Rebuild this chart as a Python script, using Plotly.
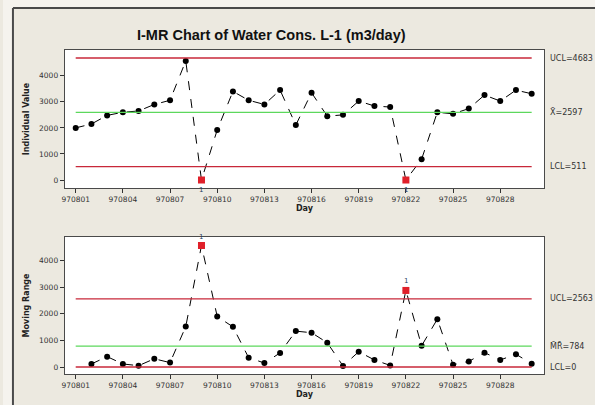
"""I-MR control chart of daily water consumption (L-1)."""

import plotly.graph_objects as go

W, H = 595, 405

days = [f"9708{d:02d}" for d in range(1, 31)]

individual = [2000, 2150, 2480, 2600, 2650, 2900, 3060, 4570, 0, 1920,
              3400, 3060, 2900, 3450, 2110, 3350, 2450, 2500, 3030, 2840,
              2800, 0, 800, 2600, 2540, 2740, 3260, 3030, 3450, 3310]

# first day has no moving range
moving_range = [None, 115, 390, 115, 50, 310, 165, 1520, 4570, 1900,
                1510, 350, 150, 530, 1350, 1290, 915, 40, 575, 265,
                60, 2880, 800, 1800, 85, 210, 540, 265, 480, 125]

i_limits = {"UCL": 4683, "CL": 2597, "LCL": 511}
mr_limits = {"UCL": 2563, "CL": 784, "LCL": 0}

i_flagged = [8, 21]
mr_flagged = [8, 21]

tick_idx = list(range(0, 30, 3))
tick_text = [days[i] for i in tick_idx]

FONT = "DejaVu Sans"
RED = "#C8283A"
GREEN = "#5CD85C"
FRAME = "#4A4A4A"


def px_x(v):
    return v / W


def px_y(v):
    return 1 - v / H


x_idx = list(range(len(days)))

fig = go.Figure()

for xa, ya, vals, flagged in (("x", "y", individual, i_flagged),
                              ("x2", "y2", moving_range, mr_flagged)):
    fig.add_trace(go.Scatter(
        x=x_idx, y=vals, xaxis=xa, yaxis=ya, mode="lines+markers",
        line=dict(color="black", width=1, dash="dash"),
        marker=dict(color="black", size=6, symbol="circle"),
        connectgaps=False, hoverinfo="skip", showlegend=False,
    ))
    fig.add_trace(go.Scatter(
        x=flagged, y=[vals[i] for i in flagged], xaxis=xa, yaxis=ya,
        mode="markers", marker=dict(color="#E0202A", size=7, symbol="square"),
        hoverinfo="skip", showlegend=False,
    ))

# control limit lines
for xr, yr, lim in (("x", "y", i_limits), ("x2", "y2", mr_limits)):
    for key, val in lim.items():
        fig.add_shape(type="line", xref=xr, yref=yr, x0=0, x1=len(days) - 1,
                      y0=val, y1=val,
                      line=dict(color=GREEN if key == "CL" else RED, width=1.3))

label_font = dict(family=FONT, size=8, color="#333333")
i_labels = [(i_limits["UCL"], f"UCL={i_limits['UCL']}"),
            (i_limits["CL"], f"X\u0304={i_limits['CL']}"),
            (i_limits["LCL"], f"LCL={i_limits['LCL']}")]
mr_labels = [(mr_limits["UCL"], f"UCL={mr_limits['UCL']}"),
             (mr_limits["CL"], f"M\u0304R\u0304={mr_limits['CL']}"),
             (mr_limits["LCL"], f"LCL={mr_limits['LCL']}")]
for yr, labels in (("y", i_labels), ("y2", mr_labels)):
    for val, txt in labels:
        fig.add_annotation(x=px_x(548), xref="paper", y=val, yref=yr,
                           text=txt, showarrow=False, xanchor="left",
                           font=label_font)

# test-1 flags
for i in i_flagged:
    fig.add_annotation(x=i, y=individual[i], xref="x", yref="y", text="1",
                       showarrow=False, yshift=-10, font=dict(family=FONT, size=7))
for i in mr_flagged:
    fig.add_annotation(x=i, y=moving_range[i], xref="x2", yref="y2", text="1",
                       showarrow=False, yshift=9, font=dict(family=FONT, size=7))

# outer frame (right and bottom edges run off the page)
fig.add_shape(type="rect", xref="paper", yref="paper", x0=0, x1=px_x(10),
              y0=0, y1=1, fillcolor="#F5F3EE", line_width=0, layer="below")
fig.add_shape(type="rect", xref="paper", yref="paper", x0=0, x1=1,
              y0=px_y(8), y1=1, fillcolor="#F5F3EE", line_width=0, layer="below")
fig.add_shape(type="line", xref="paper", yref="paper", x0=px_x(10), x1=1.1,
              y0=px_y(8), y1=px_y(8), line=dict(color=FRAME, width=2))
fig.add_shape(type="line", xref="paper", yref="paper", x0=px_x(10), x1=px_x(10),
              y0=-0.1, y1=px_y(8), line=dict(color=FRAME, width=2))

fig.add_annotation(x=px_x(270), y=px_y(25), xref="paper", yref="paper",
                   text="<b>I-MR Chart of Water Cons. L-1 (m3/day)</b>",
                   showarrow=False,
                   font=dict(family="Liberation Sans", size=14.5, color="#111"))

tick_font = dict(family=FONT, size=7.5, color="#333333")
xaxis_common = dict(
    range=[-0.7, 29.8], tickmode="array", tickvals=tick_idx, ticktext=tick_text,
    ticks="outside", ticklen=4, tickcolor="#333", showline=True, mirror=True,
    linecolor=FRAME, linewidth=1, showgrid=False, zeroline=False,
    tickfont=tick_font,
    title=dict(text="<b>Day</b>", font=dict(family=FONT, size=8, color="#222"),
               standoff=2),
)
yaxis_common = dict(
    tickmode="array", tickvals=[0, 1000, 2000, 3000, 4000], ticks="outside",
    ticklen=4, tickcolor="#333", showline=True, mirror=True, linecolor=FRAME,
    linewidth=1, showgrid=False, zeroline=False, tickfont=tick_font,
)

fig.update_layout(
    width=W, height=H, margin=dict(l=0, r=0, t=0, b=0),
    paper_bgcolor="#ECE9E0", plot_bgcolor="white",
    font=dict(family=FONT),
    xaxis=dict(xaxis_common, domain=[px_x(62), px_x(544)], anchor="y"),
    yaxis=dict(yaxis_common, domain=[px_y(188), px_y(50)], range=[-307, 4990],
               anchor="x",
               title=dict(text="<b>Individual Value</b>",
                          font=dict(family=FONT, size=8, color="#222"),
                          standoff=8)),
    xaxis2=dict(xaxis_common, domain=[px_x(62), px_x(544)], anchor="y2"),
    yaxis2=dict(yaxis_common, domain=[px_y(374), px_y(237)], range=[-263, 4890],
                anchor="x2",
                title=dict(text="<b>Moving Range</b>",
                           font=dict(family=FONT, size=8, color="#222"),
                           standoff=8)),
)

# drop the default body margin and scrollbars so the figure fills the window
fig.write_html(
    "out.html", config={"displayModeBar": False},
    post_script=("document.body.style.margin='0px';"
                 "document.body.style.overflow='hidden';"
                 "document.documentElement.style.overflow='hidden';"),
)
